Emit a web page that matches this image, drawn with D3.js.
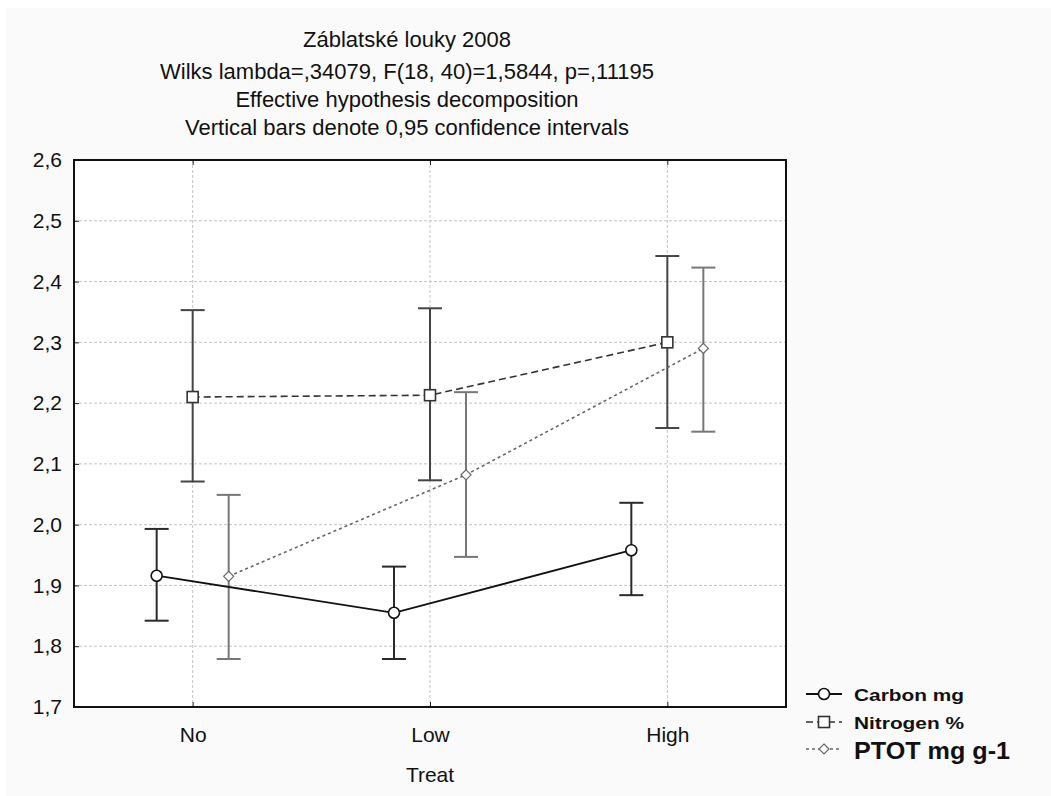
<!DOCTYPE html>
<html>
<head>
<meta charset="utf-8">
<script src="https://cdn.jsdelivr.net/npm/d3@7"></script>
<style>
  html, body { margin: 0; padding: 0; background: #ffffff; }
  svg { display: block; font-family: "Liberation Sans", Arial, sans-serif; }
</style>
</head>
<body>
<svg id="chart" width="1051" height="796"></svg>
<script>
// Treatment levels on the x axis
const categories = ["No", "Low", "High"];

// Series names as shown in the legend
const seriesNames = ["Carbon mg", "Nitrogen %", "PTOT mg g-1"];

// Means and 95% confidence limits per treatment
const carbonMean  = [1.916, 1.855, 1.958];
const carbonLow   = [1.842, 1.779, 1.884];
const carbonHigh  = [1.993, 1.931, 2.036];

const nitrogenMean = [2.210, 2.213, 2.300];
const nitrogenLow  = [2.071, 2.073, 2.159];
const nitrogenHigh = [2.353, 2.356, 2.442];

const ptotMean = [1.915, 2.082, 2.290];
const ptotLow  = [1.779, 1.947, 2.153];
const ptotHigh = [2.049, 2.218, 2.423];

// Y axis ticks
const yTicks = [1.7, 1.8, 1.9, 2.0, 2.1, 2.2, 2.3, 2.4, 2.5, 2.6];

const titleLines = [
  "Záblatské louky 2008",
  "Wilks lambda=,34079, F(18, 40)=1,5844, p=,11195",
  "Effective hypothesis decomposition",
  "Vertical bars denote 0,95 confidence intervals"
];

const svg = d3.select("#chart");

// light panel background
svg.append("rect").attr("x", 6).attr("y", 8).attr("width", 1045).attr("height", 788)
  .attr("fill", "#fafafa");

const plot = { left: 74, right: 786, top: 160, bottom: 707 };

const x = d3.scalePoint().domain(categories).range([plot.left, plot.right]).padding(0.5);
const y = d3.scaleLinear().domain([1.7, 2.6]).range([plot.bottom, plot.top]);

// plot area
svg.append("rect")
  .attr("x", plot.left).attr("y", plot.top)
  .attr("width", plot.right - plot.left).attr("height", plot.bottom - plot.top)
  .attr("fill", "#ffffff");

// grid lines
const grid = svg.append("g");
grid.selectAll("line.h").data(yTicks.slice(1, -1)).join("line")
  .attr("x1", plot.left).attr("x2", plot.right)
  .attr("y1", d => y(d)).attr("y2", d => y(d))
  .attr("stroke", "#c4c4c4").attr("stroke-width", 1).attr("stroke-dasharray", "3,2");
grid.selectAll("line.v").data(categories).join("line")
  .attr("x1", d => x(d)).attr("x2", d => x(d))
  .attr("y1", plot.top).attr("y2", plot.bottom)
  .attr("stroke", "#c4c4c4").attr("stroke-width", 1).attr("stroke-dasharray", "3,2");

// axes
const yAxis = d3.axisLeft(y).tickValues(yTicks).tickSize(-5).tickPadding(12)
  .tickFormat(d => d3.format(".1f")(d).replace(".", ","));
const gy = svg.append("g").attr("transform", `translate(${plot.left},0)`).call(yAxis);
gy.select(".domain").remove();
gy.selectAll("line").attr("stroke", "#222");
gy.selectAll("text").attr("font-size", 21).attr("fill", "#111");

const xAxis = d3.axisBottom(x).tickSize(-5).tickPadding(20);
const gx = svg.append("g").attr("transform", `translate(0,${plot.bottom})`).call(xAxis);
gx.select(".domain").remove();
gx.selectAll("line").attr("stroke", "#222");
gx.selectAll("text").attr("font-size", 21).attr("fill", "#111");

const xTop = d3.axisTop(x).tickSize(-5).tickFormat("");
const gxt = svg.append("g").attr("transform", `translate(0,${plot.top})`).call(xTop);
gxt.select(".domain").remove();
gxt.selectAll("line").attr("stroke", "#222");

// frame
svg.append("rect")
  .attr("x", plot.left).attr("y", plot.top)
  .attr("width", plot.right - plot.left).attr("height", plot.bottom - plot.top)
  .attr("fill", "none").attr("stroke", "#111").attr("stroke-width", 2);

// x axis title
svg.append("text").attr("x", x("Low")).attr("y", 782).attr("text-anchor", "middle")
  .attr("font-size", 21).attr("fill", "#111").text("Treat");

// titles
const titleBase = [47, 79, 107, 135];
svg.append("g").selectAll("text").data(titleLines).join("text")
  .attr("x", 407).attr("y", (d, i) => titleBase[i])
  .attr("text-anchor", "middle").attr("font-size", 22).attr("fill", "#111")
  .text(d => d);

// series definitions
const series = [
  { name: seriesNames[0], mean: carbonMean, lo: carbonLow, hi: carbonHigh, dx: -36,
    line: "#111", bar: "#2a2a2a", dash: null, lineW: 1.8, shape: "circle" },
  { name: seriesNames[1], mean: nitrogenMean, lo: nitrogenLow, hi: nitrogenHigh, dx: 0,
    line: "#333", bar: "#444", dash: "7,4", lineW: 1.6, shape: "square" },
  { name: seriesNames[2], mean: ptotMean, lo: ptotLow, hi: ptotHigh, dx: 36,
    line: "#666", bar: "#777", dash: "3,3", lineW: 1.6, shape: "diamond" }
];

const capHalf = 12;

function drawMarker(g, shape, cx, cy, stroke) {
  if (shape === "circle") {
    g.append("circle").attr("cx", cx).attr("cy", cy).attr("r", 5.5)
      .attr("fill", "#fff").attr("stroke", stroke).attr("stroke-width", 1.6);
  } else if (shape === "square") {
    g.append("rect").attr("x", cx - 5.5).attr("y", cy - 5.5).attr("width", 11).attr("height", 11)
      .attr("fill", "#fff").attr("stroke", stroke).attr("stroke-width", 1.6);
  } else {
    const s = 5;
    g.append("path").attr("d", `M${cx},${cy - s}L${cx + s},${cy}L${cx},${cy + s}L${cx - s},${cy}Z`)
      .attr("fill", "#fff").attr("stroke", stroke).attr("stroke-width", 1.2);
  }
}

series.forEach(s => {
  const g = svg.append("g");
  const pts = categories.map((c, i) => ({ cx: x(c) + s.dx, m: s.mean[i], lo: s.lo[i], hi: s.hi[i] }));
  // error bars
  pts.forEach(p => {
    g.append("line").attr("x1", p.cx).attr("x2", p.cx).attr("y1", y(p.lo)).attr("y2", y(p.hi))
      .attr("stroke", s.bar).attr("stroke-width", 2);
    [p.lo, p.hi].forEach(v => {
      g.append("line").attr("x1", p.cx - capHalf).attr("x2", p.cx + capHalf)
        .attr("y1", y(v)).attr("y2", y(v)).attr("stroke", s.bar).attr("stroke-width", 2);
    });
  });
});

series.forEach(s => {
  const g = svg.append("g");
  const pts = categories.map((c, i) => ({ cx: x(c) + s.dx, m: s.mean[i] }));
  g.append("path")
    .attr("d", d3.line().x(p => p.cx).y(p => y(p.m))(pts))
    .attr("fill", "none").attr("stroke", s.line).attr("stroke-width", s.lineW)
    .attr("stroke-dasharray", s.dash);
  pts.forEach(p => drawMarker(g, s.shape, p.cx, y(p.m), s.line));
});

// legend
const legendY = [694, 722, 749];
const legendBase = [701, 729, 759];
const legendFont = [17, 17, 24];
const legendWidth = [110, 110, 156];
series.forEach((s, i) => {
  const g = svg.append("g");
  const ly = legendY[i];
  g.append("line").attr("x1", 806).attr("x2", 842).attr("y1", ly).attr("y2", ly)
    .attr("stroke", s.line).attr("stroke-width", s.lineW).attr("stroke-dasharray", s.dash);
  drawMarker(g, s.shape, 824, ly, s.line);
  g.append("text").attr("x", 854).attr("y", legendBase[i])
    .attr("font-size", legendFont[i]).attr("font-weight", "bold").attr("fill", "#111")
    .attr("textLength", legendWidth[i]).attr("lengthAdjust", "spacingAndGlyphs")
    .text(s.name);
});
</script>
</body>
</html>
